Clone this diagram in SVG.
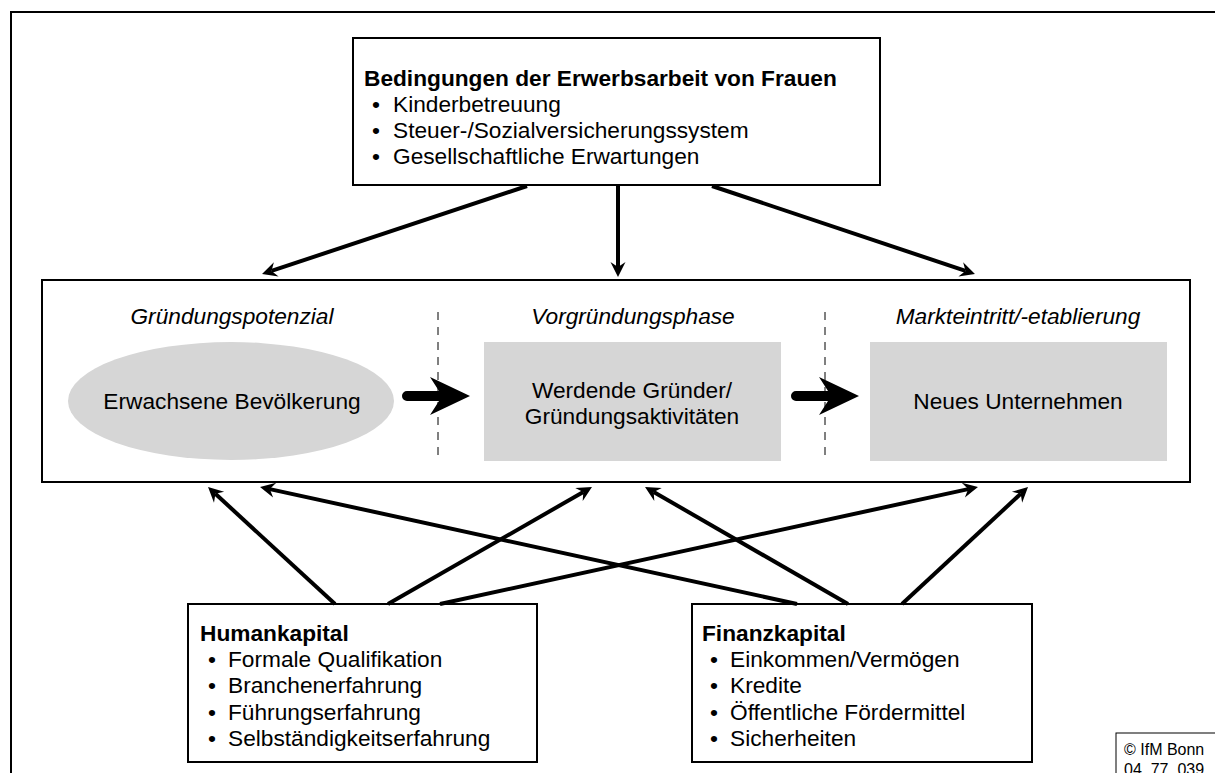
<svg xmlns="http://www.w3.org/2000/svg" width="1215" height="773" viewBox="0 0 1215 773">
<defs>
<style>
text{font-family:"Liberation Sans",Arial,sans-serif;fill:#000}
.t{font-size:22.7px}
.b{font-size:22.7px;font-weight:bold}
.i{font-size:22.7px;font-style:italic}
.box{fill:#fff;stroke:#000;stroke-width:2}
.gray{fill:#d6d6d6;stroke:none}
.dash{stroke:#000;stroke-width:1;stroke-dasharray:8,7;fill:none}
.arr{stroke:#000;stroke-width:4;fill:none;marker-end:url(#ah)}
.big{fill:#000}
</style>
<marker id="ah" markerUnits="userSpaceOnUse" viewBox="-6 -9 18 18" refX="0" refY="0" markerWidth="18" markerHeight="18" orient="auto">
<path d="M-5,-7.5 L10,0 L-5,7.5 L0,0 Z" fill="#000"/>
</marker>
</defs>
<rect x="11" y="12" width="1300" height="900" fill="#fff" stroke="#000" stroke-width="2"/>

<g id="top-box">
<rect class="box" x="353" y="38" width="527" height="147"/>
<text class="b" x="364" y="86">Bedingungen der Erwerbsarbeit von Frauen</text>
<text class="t" x="372" y="112">•</text><text class="t" x="393" y="112">Kinderbetreuung</text>
<text class="t" x="372" y="138">•</text><text class="t" x="393" y="138">Steuer-/Sozialversicherungssystem</text>
<text class="t" x="372" y="164">•</text><text class="t" x="393" y="164">Gesellschaftliche Erwartungen</text>
</g>

<g id="process-box">
<rect class="box" x="42" y="280" width="1148" height="202"/>
<line class="dash" x1="438" y1="312" x2="438" y2="460"/>
<line class="dash" x1="825" y1="312" x2="825" y2="460"/>
</g>

<g id="node-potenzial">
<text class="i" x="232" y="324" text-anchor="middle">Gründungspotenzial</text>
<ellipse class="gray" cx="231" cy="401" rx="163" ry="59"/>
<text class="t" x="232" y="409" text-anchor="middle">Erwachsene Bevölkerung</text>
</g>

<g id="node-vorgruendung">
<text class="i" x="633" y="324" text-anchor="middle">Vorgründungsphase</text>
<rect class="gray" x="484" y="342" width="297" height="119"/>
<text class="t" x="632" y="398" text-anchor="middle">Werdende Gründer/</text>
<text class="t" x="632" y="424" text-anchor="middle">Gründungsaktivitäten</text>
</g>

<g id="node-markt">
<text class="i" x="1018" y="324" text-anchor="middle">Markteintritt/-etablierung</text>
<rect class="gray" x="870" y="342" width="297" height="119"/>
<text class="t" x="1018" y="409" text-anchor="middle">Neues Unternehmen</text>
</g>

<g id="human-box">
<rect class="box" x="188" y="604" width="349" height="158"/>
<text class="b" x="200" y="641">Humankapital</text>
<text class="t" x="208" y="667">•</text><text class="t" x="228" y="667">Formale Qualifikation</text>
<text class="t" x="208" y="693">•</text><text class="t" x="228" y="693">Branchenerfahrung</text>
<text class="t" x="208" y="720">•</text><text class="t" x="228" y="720">Führungserfahrung</text>
<text class="t" x="208" y="746">•</text><text class="t" x="228" y="746">Selbständigkeitserfahrung</text>
</g>

<g id="finanz-box">
<rect class="box" x="692" y="604" width="340" height="158"/>
<text class="b" x="702" y="641">Finanzkapital</text>
<text class="t" x="710" y="667">•</text><text class="t" x="730" y="667">Einkommen/Vermögen</text>
<text class="t" x="710" y="693">•</text><text class="t" x="730" y="693">Kredite</text>
<text class="t" x="710" y="720">•</text><text class="t" x="730" y="720">Öffentliche Fördermittel</text>
<text class="t" x="710" y="746">•</text><text class="t" x="730" y="746">Sicherheiten</text>
</g>

<g id="copyright">
<rect x="1116" y="733" width="200" height="100" fill="#fff" stroke="#000" stroke-width="1"/>
<text x="1124" y="755" font-size="16">© IfM Bonn</text>
<text x="1124" y="775" font-size="16">04_77_039</text>
</g>

<g id="connectors">
<line class="arr" x1="527" y1="186" x2="271.5" y2="270.9"/>
<line class="arr" x1="618" y1="186" x2="618" y2="267"/>
<line class="arr" x1="712" y1="186" x2="965.5" y2="270.9"/>
<line class="arr" x1="335" y1="604" x2="215.4" y2="493.8"/>
<line class="arr" x1="388" y1="604" x2="583.3" y2="492"/>
<line class="arr" x1="440" y1="604" x2="968.2" y2="489.1"/>
<line class="arr" x1="797" y1="604" x2="269.8" y2="489.1"/>
<line class="arr" x1="848" y1="604" x2="653.7" y2="492"/>
<line class="arr" x1="902" y1="604" x2="1020.7" y2="493.8"/>
<path class="big" d="M407,391 L439,391 L430,377 L470,396 L430,415 L439,401 L407,401 A5,5 0 0 1 407,391 Z"/>
<path class="big" d="M796,391 L828,391 L819,377 L859,396 L819,415 L828,401 L796,401 A5,5 0 0 1 796,391 Z"/>
</g>
</svg>
